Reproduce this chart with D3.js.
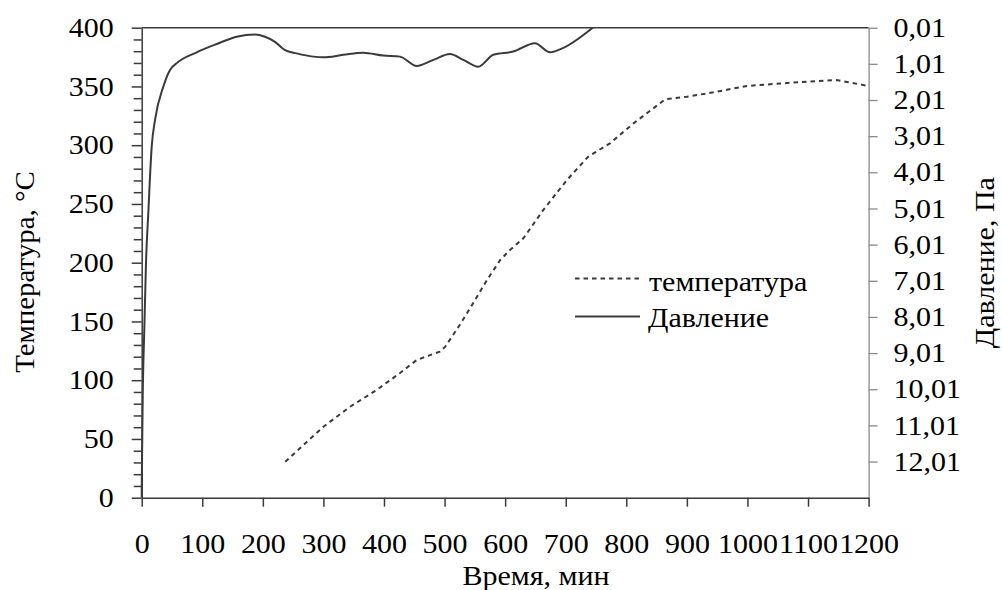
<!DOCTYPE html>
<html>
<head>
<meta charset="utf-8">
<script src="https://cdn.jsdelivr.net/npm/d3@7"></script>
<style>
  body { margin: 0; background: #fff; }
  svg { display: block; }
  svg text { font-family: "Times New Roman", Tinos, serif; font-size: 27px; fill: #000; }
</style>
</head>
<body>
<svg></svg>
<script>
// time, min
const tempTime = [237, 267, 300, 344, 388, 426, 454, 492, 501, 525, 547, 570, 592, 608, 630, 663, 702, 737, 773, 812, 864, 900, 944, 999, 1059, 1114, 1147, 1200];
// temperature, °C
const tempValues = [30.6, 44.9, 60.4, 77.4, 91.7, 105.9, 117.2, 124.3, 128.5, 147, 165.4, 185.3, 202.3, 210.8, 220.7, 244.9, 270.4, 290.2, 301.6, 318.6, 339, 341.3, 345, 350.4, 352.7, 354.6, 355.4, 350.4];

const presTime = [0, 0.5, 1.7, 4.3, 7.1, 10.9, 16.5, 22, 35.7, 46.7, 57.8, 90.8, 123.8, 156.8, 187, 203.5, 220, 236.6, 255.9, 283.3, 299.8, 332.8, 365.8, 398.8, 426.4, 454, 481.4, 509, 530.9, 555.6, 580.4, 613.4, 649.2, 674, 690.5, 744.5];
// pressure, Pa
const presValues = [13.0, 12.0, 10.2, 8.36, 6.51, 5.14, 3.30, 2.56, 1.64, 1.18, 0.99, 0.69, 0.46, 0.26, 0.20, 0.26, 0.40, 0.63, 0.72, 0.81, 0.83, 0.76, 0.70, 0.78, 0.81, 1.07, 0.90, 0.74, 0.90, 1.09, 0.76, 0.67, 0.44, 0.69, 0.61, 0.01];

const xTicks = d3.range(0, 1201, 100);
const tempTicks = d3.range(0, 401, 50);
const tempMinor = d3.range(0, 401, 10).filter(v => v % 50 !== 0);
const presTicks = d3.range(0, 13).map(i => i + 0.01);

const size = {w: 1002, h: 590};
const plot = {l: 141.7, r: 868.6, t: 27.7, b: 497.7};
const ink = '#3a3a3a';

const svg = d3.select('svg')
    .attr('width', size.w)
    .attr('height', size.h);

const x = d3.scaleLinear().domain([0, 1200]).range([plot.l, plot.r]);
const yT = d3.scaleLinear().domain([0, 400]).range([plot.b, plot.t]);
const yP = d3.scaleLinear().domain([0.01, 13.01]).range([plot.t, plot.b]);

// axes set font attributes, drop them so css applies
function plain(g) {
    g.attr('font-family', null).attr('font-size', null);
}

// the source picture is a bit wider than tall, widen the glyphs to match
function widen(sel, k = 1.11) {
    sel.each(function() {
        const w = this.getComputedTextLength();
        d3.select(this)
            .attr('textLength', w * k)
            .attr('lengthAdjust', 'spacingAndGlyphs');
    });
}

// top border
svg.append('line')
    .attr('x1', plot.l).attr('x2', plot.r)
    .attr('y1', plot.t).attr('y2', plot.t)
    .attr('stroke', ink).attr('stroke-width', 1.5);

// right axis (pressure)
const rightG = svg.append('g')
    .attr('transform', `translate(${plot.r},0)`)
    .call(d3.axisRight(yP).tickValues(presTicks).tickSize(9).tickSizeOuter(0).tickPadding(16)
        .tickFormat(d => d3.format('.2f')(d).replace('.', ',')))
    .call(plain);
rightG.selectAll('path, line').attr('stroke', '#8a8a8a').attr('stroke-width', 1.3);

// left axis minor ticks
svg.append('g')
    .attr('transform', `translate(${plot.l},0)`)
    .call(d3.axisLeft(yT).tickValues(tempMinor).tickSize(8).tickSizeOuter(0).tickFormat(''))
    .call(g => g.select('.domain').remove())
    .selectAll('line').attr('stroke', ink).attr('stroke-width', 1.5);

// left axis (temperature)
const leftG = svg.append('g')
    .attr('transform', `translate(${plot.l},0)`)
    .call(d3.axisLeft(yT).tickValues(tempTicks).tickSize(10).tickSizeOuter(0).tickPadding(18))
    .call(plain);
leftG.selectAll('path, line').attr('stroke', ink).attr('stroke-width', 1.5);

// bottom axis
const bottomG = svg.append('g')
    .attr('transform', `translate(0,${plot.b})`)
    .call(d3.axisBottom(x).tickValues(xTicks).tickSize(9).tickSizeOuter(0).tickPadding(27)
        .tickFormat(d3.format('d')))
    .call(plain);
bottomG.selectAll('path, line').attr('stroke', ink).attr('stroke-width', 1.5);

// temperature line (dashed)
const tempLine = d3.line()
    .x((d, i) => x(tempTime[i]))
    .y(d => yT(d));

svg.append('path')
    .datum(tempValues)
    .attr('d', tempLine)
    .attr('fill', 'none')
    .attr('stroke', ink)
    .attr('stroke-width', 2)
    .attr('stroke-dasharray', '4.5,4');

// pressure line (solid)
const presLine = d3.line()
    .x((d, i) => x(presTime[i]))
    .y(d => yP(d))
    .curve(d3.curveMonotoneX);

svg.append('path')
    .datum(presValues)
    .attr('d', presLine)
    .attr('fill', 'none')
    .attr('stroke', ink)
    .attr('stroke-width', 2);

// axis titles
const leftTitle = svg.append('text')
    .attr('class', 'vtitle')
    .attr('transform', 'translate(34,272) rotate(-90)')
    .attr('text-anchor', 'middle')
    .text('Температура, °С');

svg.append('text')
    .attr('transform', `translate(994,${(plot.t + plot.b) / 2}) rotate(-90)`)
    .attr('text-anchor', 'middle')
    .text('Давление, Па');

svg.append('text')
    .attr('x', 536)
    .attr('y', 585)
    .attr('text-anchor', 'middle')
    .text('Время, мин');

// legend
const legend = svg.append('g');
legend.append('line')
    .attr('x1', 575).attr('x2', 640).attr('y1', 278.5).attr('y2', 278.5)
    .attr('stroke', ink).attr('stroke-width', 2).attr('stroke-dasharray', '4.5,4');
legend.append('text')
    .attr('x', 649).attr('y', 291).text('температура');
legend.append('line')
    .attr('x1', 575).attr('x2', 640).attr('y1', 316.5).attr('y2', 316.5)
    .attr('stroke', ink).attr('stroke-width', 2);
legend.append('text')
    .attr('x', 648).attr('y', 327).text('Давление');

svg.selectAll('text:not(.vtitle)').call(widen);
leftTitle.call(widen, 1.07);
</script>
</body>
</html>
